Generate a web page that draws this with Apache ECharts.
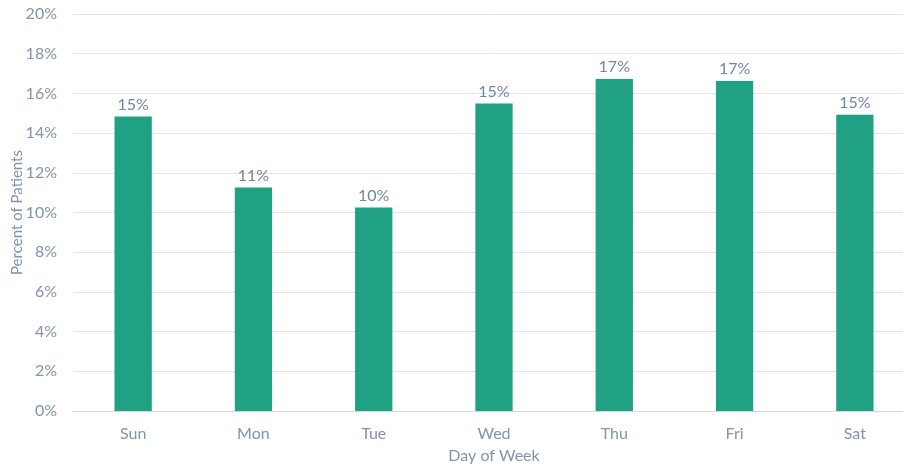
<!DOCTYPE html>
<html>
<head>
<meta charset="utf-8">
<script src="https://cdn.jsdelivr.net/npm/echarts@6/dist/echarts.min.js"></script>
<style>
  html, body { margin: 0; padding: 0; background: #ffffff; }
  #chart { width: 903px; height: 468px; }
</style>
</head>
<body>
<div id="chart"></div>
<script>
// Share of patients by day of week (percent)
const days = ['Sun', 'Mon', 'Tue', 'Wed', 'Thu', 'Fri', 'Sat'];
const percentOfPatients = [14.83, 11.26, 10.25, 15.49, 16.73, 16.63, 14.92];

const textColor = '#8193ad';
const labelColor = '#7286a4';
const font = 'Lato, "Open Sans", sans-serif';

const chart = echarts.init(document.getElementById('chart'));
chart.setOption({
  animation: false,
  grid: { left: 73, right: -12, top: 14, bottom: 57, outerBoundsMode: 'none', containLabel: false },
  xAxis: {
    type: 'category',
    data: days,
    name: 'Day of Week',
    nameLocation: 'middle',
    nameGap: 37,
    nameMoveOverlap: false,
    nameTextStyle: { color: textColor, fontSize: 16, fontFamily: font },
    axisLine: { lineStyle: { color: '#d9d9d9' } },
    axisTick: { show: false },
    axisLabel: { color: textColor, fontSize: 16, fontFamily: font, margin: 15 }
  },
  yAxis: {
    type: 'value',
    min: 0,
    max: 20,
    interval: 2,
    name: 'Percent of Patients',
    nameLocation: 'middle',
    nameGap: 48,
    nameMoveOverlap: false,
    nameTextStyle: { color: textColor, fontSize: 15, fontFamily: font },
    axisLine: { show: false },
    axisTick: { show: false },
    axisLabel: { color: textColor, fontSize: 16, fontFamily: font, margin: 16, formatter: v => v + '%' },
    splitLine: { lineStyle: { color: '#e3e3ea', width: 1 } }
  },
  series: [{
    type: 'bar',
    data: percentOfPatients,
    barWidth: '31%',
    itemStyle: { color: '#21a184' },
    label: {
      show: true,
      position: 'top',
      distance: 4,
      color: labelColor,
      fontSize: 16,
      fontFamily: font,
      formatter: p => Math.round(p.value) + '%'
    }
  }]
});
</script>
</body>
</html>
